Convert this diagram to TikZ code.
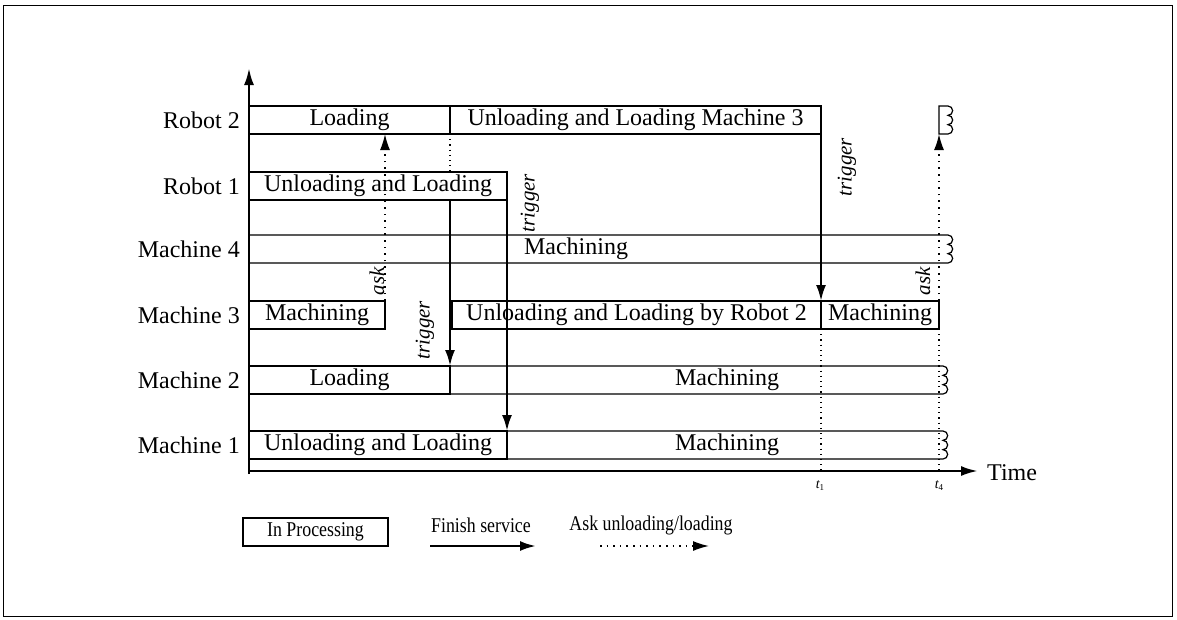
\documentclass[tikz,border=0pt]{standalone}
\usepackage{fontspec}
\setmainfont{Liberation Serif}
\usetikzlibrary{arrows.meta}
\newcommand{\legtext}[1]{\scalebox{0.85}[1]{#1}}
\begin{document}
\begin{tikzpicture}[x=1pt,y=-1pt,
  big/.style={font=\fontsize{24}{28}\selectfont},
  small/.style={font=\fontsize{21}{24}\selectfont},
  bar/.style={draw, line width=1.2pt, minimum height=28pt, inner sep=0pt, outer sep=0pt, anchor=west, big},
  wbar/.style={bar, draw=none},
  barline/.style={line width=1.2pt},
  txt/.style={inner sep=0pt, big},
  rowlabel/.style={anchor=east, inner sep=0pt, big},
  vlabel/.style={rotate=90, inner sep=0pt, font=\fontsize{21}{24}\selectfont\itshape},
  trig/.style={line width=2.4pt, -{Latex[length=16pt,width=10pt]}},
  askarrow/.style={line width=1.6pt, dash pattern=on 1.6pt off 5pt, -{Latex[length=16pt,width=10pt]}},
  timeline/.style={line width=1.2pt, dash pattern=on 1.2pt off 4pt},
  axis/.style={line width=2.6pt},
  tlabel/.style={inner sep=0pt, font=\fontsize{14}{16}\selectfont\itshape}
]
\useasboundingbox (0,0) rectangle (1177,619);
\draw[line width=1pt] (3,5) rectangle (1172,616);

% row labels
\node[rowlabel] (lr2) at (240,120) {Robot 2};
\node[rowlabel] (lr1) at (240,186) {Robot 1};
\node[rowlabel] (lm4) at (240,249) {Machine 4};
\node[rowlabel] (lm3) at (240,315) {Machine 3};
\node[rowlabel] (lm2) at (240,380) {Machine 2};
\node[rowlabel] (lm1) at (240,445) {Machine 1};

% bars
\node[bar, minimum width=201pt] (r2a) at (249,120) {Loading};
\node[bar, minimum width=371pt] (r2b) at (450,120) {Unloading and Loading Machine 3};
\node[wbar, minimum width=9pt] (r2c) at (939,120) {};
\node[bar, minimum width=258pt] (r1a) at (249,186) {Unloading and Loading};
\node[wbar, minimum width=699pt] (m4) at (249,249) {};
\node[txt] (m4t) at (576,249) {Machining};
\node[bar, minimum width=136pt] (m3a) at (249,315) {Machining};
\node[bar, minimum width=369pt] (m3b) at (452,315) {Unloading and Loading by Robot 2};
\node[bar, minimum width=118pt] (m3c) at (821,315) {Machining};
\node[bar, minimum width=201pt] (m2a) at (249,380) {Loading};
\node[wbar, minimum width=493pt] (m2b) at (450,380) {};
\node[txt] (m2t) at (727,380) {Machining};
\node[bar, minimum width=258pt] (m1a) at (249,445) {Unloading and Loading};
\node[wbar, minimum width=436pt] (m1b) at (507,445) {};
\node[txt] (m1t) at (727,445) {Machining};

\foreach \n in {r2c,m4,m2b,m1b}
  \draw[barline] (\n.south east) -- (\n.south west) -- (\n.north west) -- (\n.north east)
    arc[start angle=90,end angle=-90,radius=4.667pt]
    arc[start angle=90,end angle=-90,radius=4.667pt]
    arc[start angle=90,end angle=-90,radius=4.667pt];

% axes
\coordinate (O) at (249,471);
\coordinate (ytop) at (249,68);
\coordinate (xend) at (978,471);
\draw[axis, -{Latex[length=17pt,width=10pt]}] (249,474) -- (ytop);
\draw[axis, -{Latex[length=17pt,width=10pt]}] (O) -- (xend);
\node[txt, anchor=west] (time) at (987,473) {Time};

% trigger arrows
\draw[trig] (r2a.south east |- r1a.south) -- (m2a.north east);
\draw[trig] (r1a.south east) -- (m1a.north east);
\draw[trig] (r2b.south east) -- (m3b.north east);

% ask arrows
\draw[askarrow] (m3a.north east) -- (m3a.north east |- r2a.south);
\draw[askarrow] (m3c.north east) -- (r2c.south west);

% time lines
\draw[timeline] (r2a.south east) -- (r2a.south east |- r1a.north);
\draw[timeline] (m3b.south east) -- (m3b.south east |- O);
\draw[timeline] (m3c.south east) -- (m3c.south east |- O);

% rotated labels
\node[vlabel] (tg1) at (530,203) {trigger};
\node[vlabel] (tg2) at (425,330) {trigger};
\node[vlabel] (tg3) at (847,167) {trigger};
\node[vlabel] (ak1) at (377,281) {ask};
\node[vlabel] (ak2) at (923,281) {ask};

% time marks
\node[tlabel] (t1) at (820,486) {t\raisebox{-2pt}{\fontsize{9}{9}\selectfont\upshape 1}};
\node[tlabel] (t4) at (939,486) {t\raisebox{-2pt}{\fontsize{9}{9}\selectfont\upshape 4}};

% legend
\node[draw, line width=1.2pt, minimum width=145pt, minimum height=28pt, inner sep=0pt, small] (leg1) at (315.5,532) {\legtext{In Processing}};
\node[small, inner sep=0pt] (leg2) at (481,525) {\legtext{Finish service}};
\coordinate (f1) at (430,546);
\coordinate (f2) at (536,546);
\draw[trig] (f1) -- (f2);
\node[small, inner sep=0pt] (leg3) at (651,525) {\legtext{Ask unloading/loading}};
\coordinate (a1) at (600,546);
\coordinate (a2) at (709,546);
\draw[askarrow] (a1) -- (a2);
\end{tikzpicture}
\end{document}
